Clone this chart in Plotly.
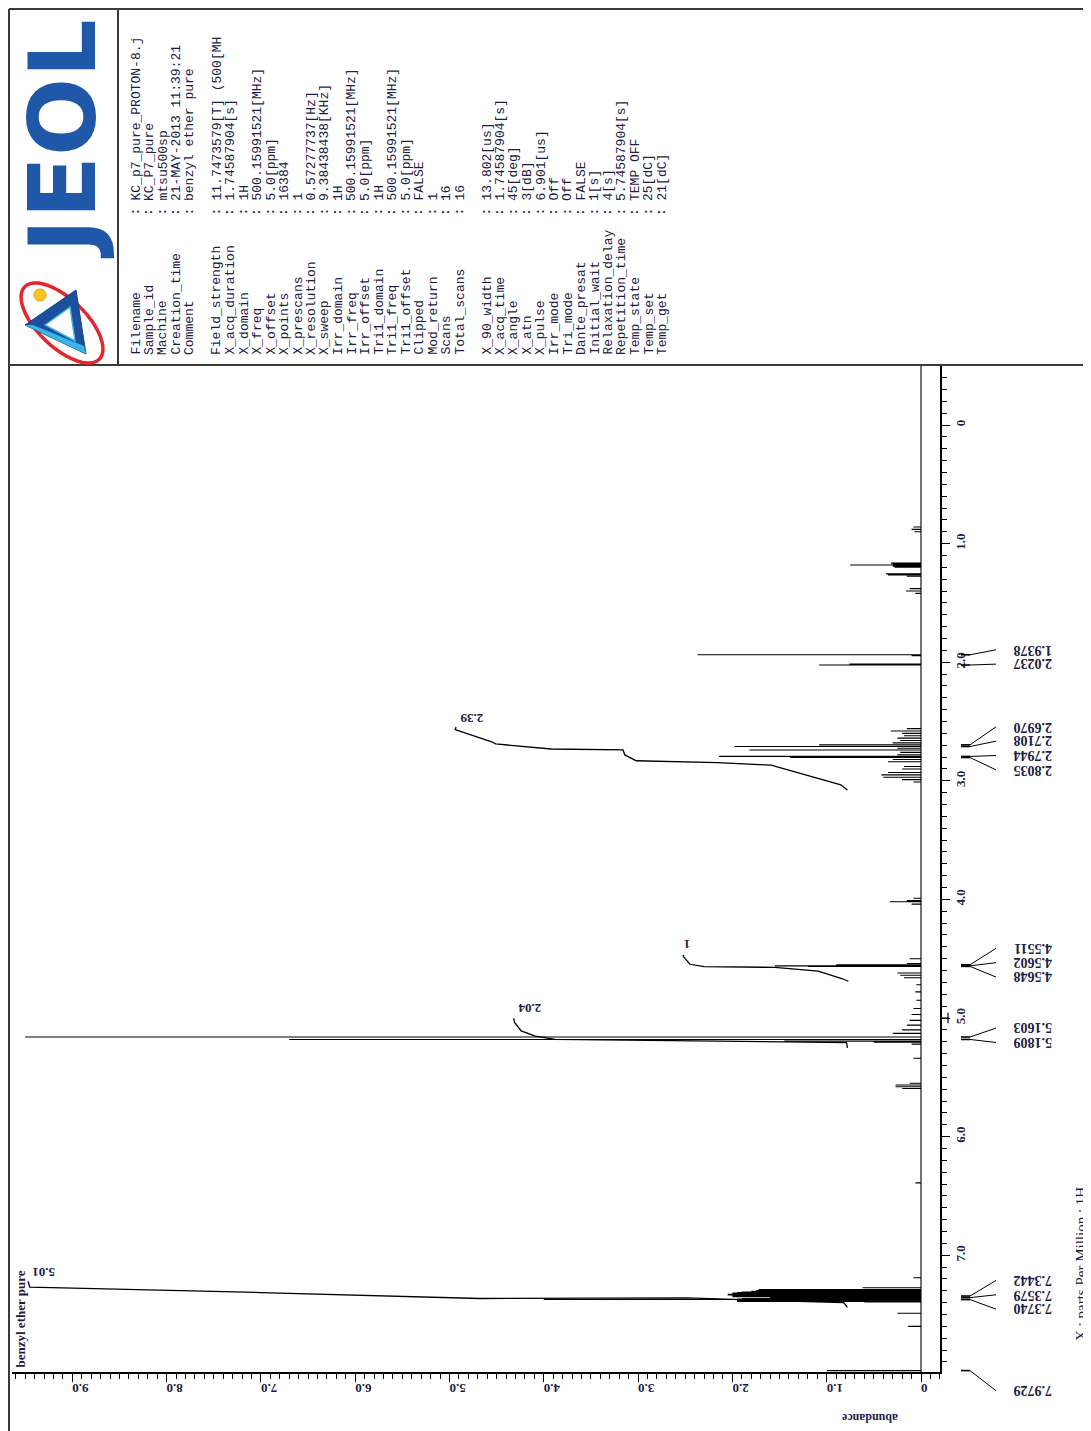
import math
import plotly.graph_objects as go

# reference page size; the html body adds an 8 px margin, so the figure is 8 px smaller
PAGE_W, PAGE_H = 1091, 1431
OFF = 8
W, H = PAGE_W - OFF, PAGE_H - OFF

# ---------------- spectrum data (ppm, abundance) ----------------
peak_ppm = [0.86, 0.88, 0.90,
            1.165, 1.175, 1.18, 1.19, 1.20, 1.255, 1.265, 1.275, 1.38, 1.40, 1.42,
            1.9378, 1.945, 2.015, 2.0237,
            2.56, 2.58, 2.60, 2.62, 2.64, 2.66, 2.68, 2.6970, 2.7108, 2.725, 2.74, 2.76, 2.78,
            2.7944, 2.8035, 2.82, 2.84, 2.88, 2.90, 2.93, 2.95, 2.97, 2.99, 3.01,
            3.99, 4.01, 4.02, 4.04,
            4.50, 4.54, 4.5511, 4.5602, 4.5648, 4.62, 4.64, 4.66,
            4.72, 4.78, 4.85, 4.92, 4.97, 5.02, 5.06, 5.10, 5.13, 5.1603, 5.1809, 5.195, 5.205, 5.22,
            5.34, 5.55, 5.565, 5.58, 5.595,
            6.39,
            7.19, 7.275, 7.29, 7.295, 7.30, 7.305, 7.31, 7.315, 7.32, 7.325, 7.33, 7.335,
            7.3442, 7.35, 7.3579, 7.365, 7.37, 7.3740, 7.38, 7.385, 7.39, 7.395,
            7.49, 7.60, 7.9729]
peak_abund = [0.08, 0.10, 0.07,
              0.32, 0.30, 0.75, 0.30, 0.28, 0.37, 0.35, 0.15, 0.12, 0.16, 0.06,
              2.37, 0.10, 0.76, 1.08,
              0.15, 0.32, 0.20, 0.18, 0.25, 0.22, 0.30, 1.08, 1.98, 0.25, 1.82, 0.22, 0.25,
              2.14, 1.39, 0.30, 0.35, 0.18, 0.20, 0.35, 0.42, 0.40, 0.20, 0.08,
              0.08, 0.15, 0.33, 0.10,
              0.12, 0.15, 0.90, 1.55, 1.20, 0.25, 0.22, 0.18,
              0.05, 0.06, 0.05, 0.08, 0.10, 0.12, 0.15, 0.20, 0.30, 9.50, 6.70, 1.45, 0.50, 0.10,
              0.08, 0.12, 0.27, 0.27, 0.20,
              0.06,
              0.08, 0.62, 1.72, 1.73, 1.75, 1.80, 1.90, 1.95, 2.00, 2.00, 2.05, 2.05,
              2.00, 2.00, 1.60, 1.90, 1.95, 4.00, 1.95, 1.95, 1.95, 0.60,
              0.25, 0.14, 1.00]

# integral curves (ppm, abundance-scale)
int1_ppm = [3.077, 3.034, 2.868, 2.846, 2.831, 2.782, 2.740, 2.732, 2.689, 2.669, 2.569, 2.546]
int1_abund = [0.78, 0.85, 1.59, 2.16, 3.02, 3.14, 3.16, 3.92, 4.51, 4.56, 4.94, 4.93]
int2_ppm = [4.69, 4.667, 4.605, 4.573, 4.567, 4.547, 4.482, 4.468]
int2_abund = [0.77, 0.84, 1.09, 1.55, 2.30, 2.45, 2.52, 2.52]
int3_ppm = [5.251, 5.208, 5.202, 5.180, 5.152, 5.109, 5.037, 5.003]
int3_abund = [0.78, 0.79, 1.44, 3.88, 4.09, 4.24, 4.31, 4.32]
int4_ppm = [7.44, 7.40, 7.385, 7.36, 7.365, 7.315, 7.27, 7.22]
int4_abund = [0.78, 0.82, 1.50, 2.48, 4.68, 7.00, 9.45, 9.47]
int_labels = ["2.39", "1", "2.04", "5.01"]
int_label_ppm = [2.47, 4.38, 4.92, 7.14]
int_label_abund = [4.76, 2.48, 4.15, 9.30]

# picked peaks
pick_groups = [[1.9378, 2.0237], [2.6970, 2.7108, 2.7944, 2.8035],
               [4.5511, 4.5602, 4.5648], [5.1603, 5.1809],
               [7.3442, 7.3579, 7.3740], [7.9729]]

# axis tick labels
abund_ticks = [0, 1, 2, 3, 4, 5, 6, 7, 8, 9]
abund_ticktext = ["0", "1.0", "2.0", "3.0", "4.0", "5.0", "6.0", "7.0", "8.0", "9.0"]
ppm_ticks = [0, 1, 2, 3, 4, 5, 6, 7]
ppm_ticktext = ["0", "1.0", "2.0", "3.0", "4.0", "5.0", "6.0", "7.0"]

# header parameters
meta_names = ["Filename", "Sample_id", "Machine", "Creation_time", "Comment", None,
              "Field_strength", "X_acq_duration", "X_domain", "X_freq", "X_offset", "X_points",
              "X_prescans", "X_resolution", "X_sweep", "Irr_domain", "Irr_freq", "Irr_offset",
              "Tri1_domain", "Tri1_freq", "Tri1_offset", "Clipped", "Mod_return", "Scans",
              "Total_scans", None,
              "X_90_width", "X_acq_time", "X_angle", "X_atn", "X_pulse", "Irr_mode", "Tri_mode",
              "Dante_presat", "Initial_wait", "Relaxation_delay", "Repetition_time",
              "Temp_state", "Temp_set", "Temp_get"]
meta_values = ["KC_p7_pure_PROTON-8.j", "KC_P7_pure", "mtsu500sp", "21-MAY-2013 11:39:21",
               "benzyl ether pure", None,
               "11.7473579[T] (500[MH", "1.74587904[s]", "1H", "500.15991521[MHz]", "5.0[ppm]",
               "16384", "1", "0.57277737[Hz]", "9.38438438[KHz]", "1H", "500.15991521[MHz]",
               "5.0[ppm]", "1H", "500.15991521[MHz]", "5.0[ppm]", "FALSE", "1", "16", "16", None,
               "13.802[us]", "1.74587904[s]", "45[deg]", "3[dB]", "6.901[us]", "Off", "Off",
               "FALSE", "1[s]", "4[s]", "5.74587904[s]", "TEMP OFF", "25[dC]", "21[dC]"]

# ---------------- geometry helpers (page pixel -> paper) ----------------
def px(x):
    return (x - OFF) / W

def py(y):
    return 1 - (y - OFF) / H

AB0_PX, AB_SCALE = 921.0, 94.3      # abundance 0 position, px per unit
PPM0_PX, PPM_SCALE = 425.0, 118.6   # ppm 0 position, px per ppm
PLOT_L, PLOT_R, PLOT_T, PLOT_B = 12, 940, 365, 1372
x_range = [(AB0_PX - PLOT_L) / AB_SCALE, (AB0_PX - PLOT_R) / AB_SCALE]
y_range = [(PLOT_B - PPM0_PX) / PPM_SCALE, (PLOT_T - PPM0_PX) / PPM_SCALE]

def ppm_paper(p):
    """ppm value -> paper y, using the same scale as the ppm axis (works outside the range)."""
    return py(PPM0_PX + p * PPM_SCALE)

TXT = "#1c1c44"
SERIF = "Liberation Serif"
MONO = "Liberation Mono"

fig = go.Figure()

# spectrum as sticks on a zero baseline
pairs = sorted(zip(peak_ppm, peak_abund))
sx, sy = [0], [y_range[1]]
for p, a in pairs:
    sx += [0, a, 0]
    sy += [p, p, p]
sx.append(0)
sy.append(y_range[0])
fig.add_trace(go.Scatter(x=sx, y=sy, mode="lines",
                         line=dict(color="black", width=1.1, simplify=False),
                         hoverinfo="skip", showlegend=False))

for ip, ia in [(int1_ppm, int1_abund), (int2_ppm, int2_abund),
               (int3_ppm, int3_abund), (int4_ppm, int4_abund)]:
    fig.add_trace(go.Scatter(x=ia, y=ip, mode="lines",
                             line=dict(color="black", width=1.3),
                             hoverinfo="skip", showlegend=False))

annotations = []
shapes = []

# integral labels
for t, p, a in zip(int_labels, int_label_ppm, int_label_abund):
    annotations.append(dict(x=a, y=p, xref="x", yref="y", text=t, showarrow=False,
                            textangle=180, xanchor="center", yanchor="middle",
                            font=dict(family=SERIF, size=13, color=TXT, weight="bold")))

# peak pick labels with connectors
for grp in pick_groups:
    n = len(grp)
    center = sum(grp) / n - 0.025
    for i, p in enumerate(grp):
        if n == 1:
            lp = p + 0.17
        else:
            lp = center + (i - (n - 1) / 2) * 0.121
        shapes.append(dict(type="line", xref="paper", yref="paper", x0=px(961), x1=px(970),
                           y0=ppm_paper(p), y1=ppm_paper(p),
                           line=dict(color="black", width=1.6)))
        shapes.append(dict(type="line", xref="paper", yref="paper", x0=px(970), x1=px(996),
                           y0=ppm_paper(p), y1=ppm_paper(lp),
                           line=dict(color="black", width=1)))
        annotations.append(dict(x=px(1033), y=ppm_paper(lp), xref="paper", yref="paper",
                                text=f"{p:.4f}", showarrow=False, textangle=180,
                                xanchor="center", yanchor="middle",
                                font=dict(family=SERIF, size=14, color=TXT, weight="bold")))

# reference mark at 5.0 ppm
shapes.append(dict(type="line", xref="paper", yref="y", x0=px(940), x1=px(948),
                   y0=5.0, y1=5.0, line=dict(color="black", width=1.2)))
shapes.append(dict(type="line", xref="paper", yref="y", x0=px(948), x1=px(948),
                   y0=4.955, y1=5.045, line=dict(color="black", width=1.2)))

# frame lines
for x0, y0, x1, y1 in [(9, 9, 9, PAGE_H), (9, 9, PAGE_W, 9), (9, 365, PAGE_W, 365),
                       (118, 9, 118, 365)]:
    shapes.append(dict(type="line", xref="paper", yref="paper", x0=px(x0), y0=py(y0),
                       x1=px(x1), y1=py(y1), line=dict(color="#3a3a3a", width=2)))

# header text
for i, (nm, val) in enumerate(zip(meta_names, meta_values)):
    if nm is None:
        continue
    xc = 135.5 + 13.5 * i
    annotations.append(dict(x=px(xc), y=py(357), xref="paper", yref="paper", text=nm,
                            showarrow=False, textangle=-90, xanchor="center", yanchor="bottom",
                            font=dict(family=MONO, size=13, color=TXT)))
    annotations.append(dict(x=px(xc), y=py(212), xref="paper", yref="paper", text=":",
                            showarrow=False, textangle=-90, xanchor="center", yanchor="middle",
                            font=dict(family=MONO, size=13, color=TXT, weight="bold")))
    annotations.append(dict(x=px(xc), y=py(203), xref="paper", yref="paper", text=val,
                            showarrow=False, textangle=-90, xanchor="center", yanchor="bottom",
                            font=dict(family=MONO, size=13, color=TXT)))

# JEOL logo text
annotations.append(dict(x=px(63), y=py(139), xref="paper", yref="paper", text="JEOL",
                        showarrow=False, textangle=-90, xanchor="center", yanchor="middle",
                        font=dict(family="DejaVu Sans", size=92, color="#1f58a8",
                                  weight="bold")))

# logo emblem: tilted red ring, blue triangle, yellow ball
cx, cy, ra, rb, ang = 62, 323, 52, 24, math.radians(44)
pts = []
for k in range(49):
    t = 2 * math.pi * k / 48
    ex = ra * math.cos(t)
    ey = rb * math.sin(t)
    X = cx + ex * math.cos(ang) - ey * math.sin(ang)
    Y = cy + ex * math.sin(ang) + ey * math.cos(ang)
    pts.append((px(X), py(Y)))
ring = "M " + " L ".join(f"{a:.5f},{b:.5f}" for a, b in pts) + " Z"
shapes.append(dict(type="path", xref="paper", yref="paper", path=ring,
                   line=dict(color="#e5262b", width=3.5)))
tri = [(25, 325), (76, 290), (86, 354)]
shapes.append(dict(type="path", xref="paper", yref="paper",
                   path="M " + " L ".join(f"{px(a):.5f},{py(b):.5f}" for a, b in tri) + " Z",
                   fillcolor="#1c4f9c", line=dict(color="#163f80", width=1)))
band = [(25, 325), (86, 354), (84, 346), (33, 325)]
shapes.append(dict(type="path", xref="paper", yref="paper",
                   path="M " + " L ".join(f"{px(a):.5f},{py(b):.5f}" for a, b in band) + " Z",
                   fillcolor="#38b6e8", line=dict(width=0)))
inner = [(45, 325), (70, 307), (75, 341)]
shapes.append(dict(type="path", xref="paper", yref="paper",
                   path="M " + " L ".join(f"{px(a):.5f},{py(b):.5f}" for a, b in inner) + " Z",
                   fillcolor="white", line=dict(color="#38b6e8", width=1.5)))
shapes.append(dict(type="circle", xref="paper", yref="paper",
                   x0=px(34), x1=px(46), y0=py(301), y1=py(289),
                   fillcolor="#f7c51e", line=dict(color="#e39a12", width=1)))

# axis / page labels
annotations.append(dict(x=px(20), y=py(1370), xref="paper", yref="paper",
                        text="benzyl ether pure", showarrow=False, textangle=-90,
                        xanchor="center", yanchor="bottom",
                        font=dict(family=SERIF, size=13, color=TXT, weight="bold")))
annotations.append(dict(x=px(870), y=py(1418), xref="paper", yref="paper",
                        text="abundance", showarrow=False, textangle=180,
                        xanchor="center", yanchor="middle",
                        font=dict(family=SERIF, size=12, color=TXT, weight="bold")))
annotations.append(dict(x=px(1081), y=py(1343), xref="paper", yref="paper",
                        text="X : parts Per Million : 1H", showarrow=False, textangle=-90,
                        xanchor="center", yanchor="bottom",
                        font=dict(family=SERIF, size=15, color=TXT)))

fig.update_layout(
    width=W, height=H, margin=dict(l=0, r=0, t=0, b=0),
    paper_bgcolor="white", plot_bgcolor="white", showlegend=False,
    xaxis=dict(domain=[px(PLOT_L), px(PLOT_R)], range=x_range, showgrid=False,
               zeroline=False, showline=True, linecolor="black", linewidth=1.5,
               ticks="outside", ticklen=8, tickwidth=1.2, tickcolor="black",
               tickmode="array", tickvals=abund_ticks, ticktext=abund_ticktext,
               tickangle=180, tickfont=dict(family=SERIF, size=13, color=TXT, weight="bold"),
               minor=dict(tickmode="linear", tick0=0, dtick=0.1, ticks="outside",
                          ticklen=5, tickwidth=1, tickcolor="black"),
               fixedrange=True),
    yaxis=dict(domain=[py(PLOT_B), py(PLOT_T)], range=y_range, side="right",
               showgrid=False,
               zeroline=False, showline=True, linecolor="black", linewidth=1.5,
               ticks="outside", ticklen=8, tickwidth=1.2, tickcolor="black",
               tickmode="array", tickvals=ppm_ticks, ticktext=ppm_ticktext,
               tickangle=-90, tickfont=dict(family=SERIF, size=13, color=TXT, weight="bold"),
               minor=dict(tickmode="linear", tick0=0, dtick=0.1, ticks="outside",
                          ticklen=5, tickwidth=1, tickcolor="black"),
               fixedrange=True),
    annotations=annotations, shapes=shapes,
)

fig.write_html("out.html")
